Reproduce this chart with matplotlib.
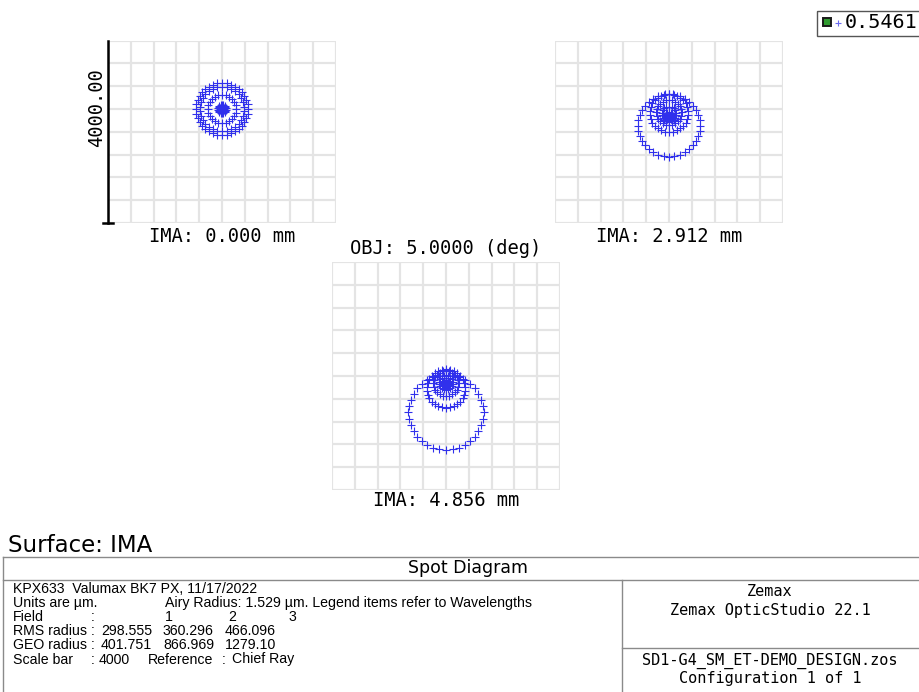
import numpy as np
import matplotlib
matplotlib.use('Agg')
import matplotlib.pyplot as plt
from matplotlib.patches import Rectangle

# ---- data (units: um, y up, chief ray at origin) ----
ring_counts = [6, 12, 18, 24, 30, 36]          # hexapolar rings 1..6

# field 1 (on axis)
f1_cy = [0, 0, 0, 0, 0, 0]
f1_r = [10, 35, 70, 250, 390, 455]
# field 2
f2_cy = [-135, -120, -90, -60, -70, -290]
f2_r = [20, 60, 130, 220, 335, 545]
# field 3
f3_cy = [-130, -130, -120, -130, -220, -640]
f3_r = [20, 55, 120, 220, 340, 658]

field_labels = ["IMA: 0.000 mm", "IMA: 2.912 mm", "IMA: 4.856 mm"]
obj_label = "OBJ: 5.0000 (deg)"
scale_bar = 4000
wavelength = "0.5461"
field_nums = ["1", "2", "3"]
rms_radius = ["298.555", "360.296", "466.096"]
geo_radius = ["401.751", "866.969", "1279.10"]

val_x = [101, 163, 225]
info_lines = [
    [("KPX633  Valumax BK7 PX, 11/17/2022", 13)],
    [("Units are \u00b5m.", 13), ("Airy Radius: 1.529 \u00b5m. Legend items refer to Wavelengths", 165)],
    [("Field", 13), (":", 91)] + list(zip(field_nums, [165, 228, 289])),
    [("RMS radius", 13), (":", 91)] + list(zip(rms_radius, val_x)),
    [("GEO radius", 13), (":", 91)] + list(zip(geo_radius, val_x)),
    [("Scale bar", 13), (":", 91), (str(scale_bar), 99), ("Reference", 148), (":", 222), ("Chief Ray", 232)],
]

W, H = 920, 692
MONO = 'DejaVu Sans Mono'
SPOT = '#3030ec'
GRIDC = '#e4e4e4'


def rect(x0, y0, x1, y1):
    return [x0 / W, 1 - y1 / H, (x1 - x0) / W, (y1 - y0) / H]


def spots(cy, r):
    xs, ys = [0.0], [cy[0]]
    for c, rr, n in zip(cy, r, ring_counts):
        t = np.linspace(0, 2 * np.pi, n, endpoint=False)
        xs.extend(rr * np.sin(t))
        ys.extend(c + rr * np.cos(t))
    return np.array(xs), np.array(ys)


def spot_box(ax, cy, r, top=2000):
    half = scale_bar / 2
    ax.set_xlim(-half, half)
    ax.set_ylim(-half, top)
    grid = np.arange(-half, half + 1, scale_bar / 10)
    for g in grid:
        ax.axvline(g, color=GRIDC, lw=1.6, zorder=0)
        if g <= top:
            ax.axhline(g, color=GRIDC, lw=1.6, zorder=0)
    for s in ax.spines.values():
        s.set_visible(False)
    ax.set_xticks([])
    ax.set_yticks([])
    xs, ys = spots(cy, r)
    ax.plot(xs, ys, '+', color=SPOT, ms=5.5, mew=0.8, zorder=3)


fig = plt.figure(figsize=(W / 100, H / 100), dpi=100)

over = fig.add_axes([0, 0, 1, 1])
over.set_xlim(0, W)
over.set_ylim(H, 0)
over.axis('off')

# top row boxes are clipped at the top edge (rows above 1200 um hidden)
top_vis = 1200
hpx = 228 * (top_vis + 2000) / 4000
ax1 = fig.add_axes(rect(108, 223 - hpx, 336, 223))
spot_box(ax1, f1_cy, f1_r, top=top_vis)
ax2 = fig.add_axes(rect(555, 223 - hpx, 783, 223))
spot_box(ax2, f2_cy, f2_r, top=top_vis)
ax3 = fig.add_axes(rect(332, 262, 560, 490))
spot_box(ax3, f3_cy, f3_r)

# scale bar
ax1.plot([-2000, -2000], [-2000, top_vis], color='black', lw=1.8, clip_on=False, zorder=5)
ax1.plot([-2090, -1910], [-2000, -2000], color='black', lw=1.8, clip_on=False, zorder=5)
over.text(97, 108, "%.2f" % scale_bar, rotation=90, ha='center', va='center',
          family=MONO, fontsize=13.5)

over.text(222, 237, field_labels[0], ha='center', va='center', family=MONO, fontsize=13.5)
over.text(669, 237, field_labels[1], ha='center', va='center', family=MONO, fontsize=13.5)
over.text(446, 249, obj_label, ha='center', va='center', family=MONO, fontsize=13.5)
over.text(446, 501, field_labels[2], ha='center', va='center', family=MONO, fontsize=13.5)

# legend
over.add_patch(Rectangle((817, 11), 110, 25, fill=False, ec='#555555', lw=1, clip_on=False))
over.add_patch(Rectangle((823, 18), 8, 8, fc='#2f9a2f', ec='#1a1a1a', lw=1.4))
over.plot([838], [22.5], '+', color='#6a6af0', ms=4, mew=0.8)
over.text(845, 23, wavelength, ha='left', va='center', family=MONO, fontsize=14.5)

# bottom info panel
over.text(8, 546, "Surface: IMA", ha='left', va='center', family='DejaVu Sans', fontsize=16.5)
lc = '#8a8a8a'
over.plot([3, W], [557, 557], color=lc, lw=1)
over.plot([3, W], [580, 580], color=lc, lw=1)
over.plot([3, 3], [557, H], color=lc, lw=1)
over.plot([622, 622], [580, H], color=lc, lw=1)
over.plot([622, W], [648, 648], color=lc, lw=1)
over.text(468, 568, "Spot Diagram", ha='center', va='center', family='DejaVu Sans', fontsize=12.5)

for i, line in enumerate(info_lines):
    y = 589 + i * 14.1
    for txt, x in line:
        over.text(x, y, txt, ha='left', va='center', family='Liberation Sans', fontsize=10.2)

over.text(770, 592, "Zemax", ha='center', va='center', family=MONO, fontsize=11)
over.text(770, 610, "Zemax OpticStudio 22.1", ha='center', va='center', family=MONO, fontsize=11)
over.text(770, 661, "SD1-G4_SM_ET-DEMO_DESIGN.zos", ha='center', va='center', family=MONO, fontsize=11)
over.text(770, 678, "Configuration 1 of 1", ha='center', va='center', family=MONO, fontsize=11)

fig.savefig('out.png', dpi=100, facecolor='white')
